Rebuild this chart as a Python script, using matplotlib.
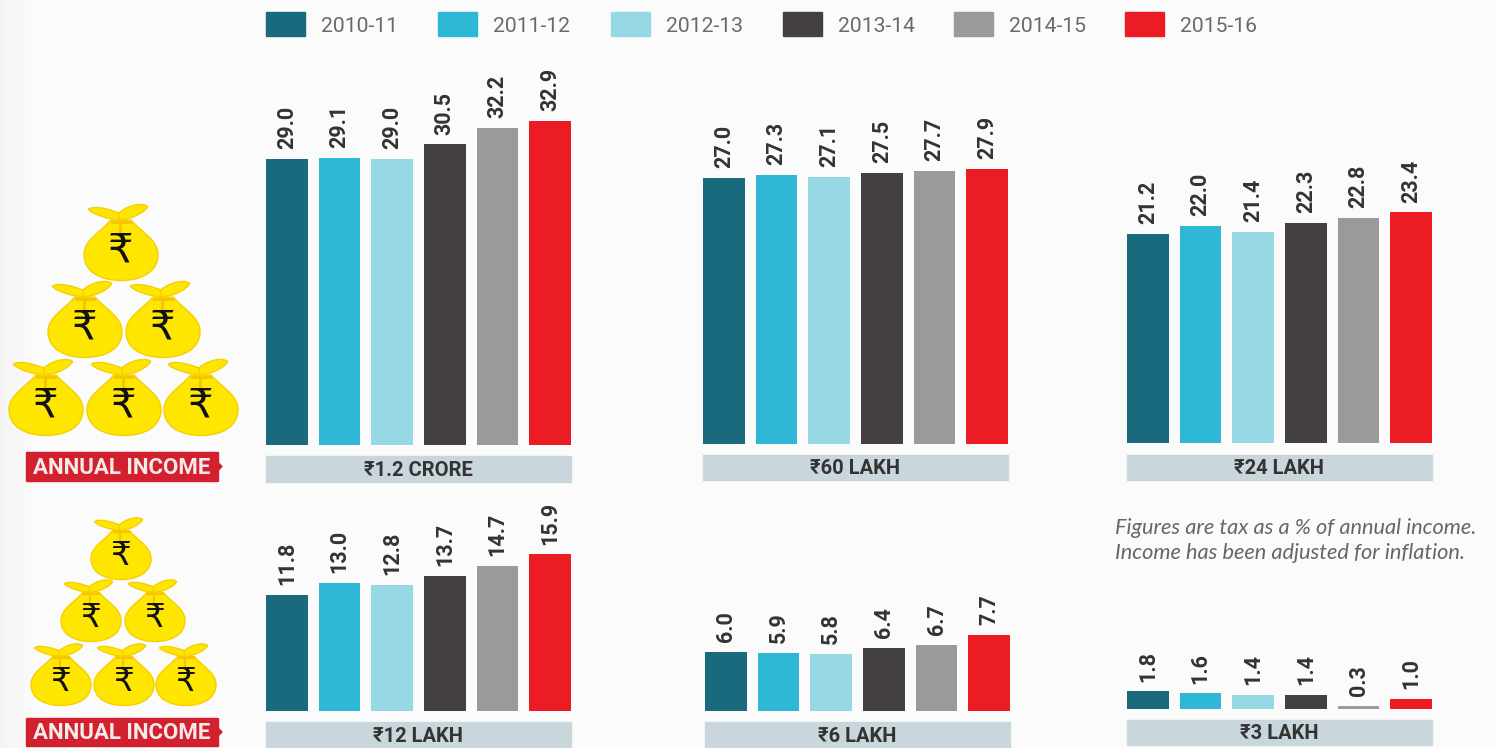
import numpy as np
from matplotlib import pyplot as plt
from matplotlib.patches import PathPatch, Rectangle, Polygon
from matplotlib.path import Path

W, H = 1495, 748
FONT = ['Roboto', 'DejaVu Sans']

years = ['2010-11', '2011-12', '2012-13', '2013-14', '2014-15', '2015-16']
colors = ['#1a6a7e', '#2eb8d6', '#96d8e4', '#444040', '#9b9999', '#ec1c24']

crore_1_2 = [29.0, 29.1, 29.0, 30.5, 32.2, 32.9]
lakh_60 = [27.0, 27.3, 27.1, 27.5, 27.7, 27.9]
lakh_24 = [21.2, 22.0, 21.4, 22.3, 22.8, 23.4]
lakh_12 = [11.8, 13.0, 12.8, 13.7, 14.7, 15.9]
lakh_6 = [6.0, 5.9, 5.8, 6.4, 6.7, 7.7]
lakh_3 = [1.8, 1.6, 1.4, 1.4, 0.3, 1.0]

# values, caption, left edge px, baseline px, caption top px, caption bottom px
panels = [
    (crore_1_2, '₹1.2 CRORE', 266, 445, 456, 482),
    (lakh_60, '₹60 LAKH', 703, 444, 455, 480),
    (lakh_24, '₹24 LAKH', 1127, 443, 455, 480),
    (lakh_12, '₹12 LAKH', 266, 711, 722, 748),
    (lakh_6, '₹6 LAKH', 705, 711, 722, 748),
    (lakh_3, '₹3 LAKH', 1127, 709, 720, 745),
]

fig = plt.figure(figsize=(W / 100, H / 100), dpi=100, facecolor='#fbfbfb')

# overlay in pixel coords for legend, icons and captions
over = fig.add_axes([0, 0, 1, 1])
over.axis('off')

# faint shading down the left edge
over.imshow(np.linspace(0.955, 0.985, 40).reshape(1, -1), extent=[0, 40, H, 0],
            cmap='gray', vmin=0, vmax=1, aspect='auto')
over.set_xlim(0, W)
over.set_ylim(H, 0)

for i, year in enumerate(years):
    x = [266, 438, 611, 783, 954, 1125][i]
    over.add_patch(Rectangle((x, 12), 39, 24, color=colors[i]))
    over.text(x + 55, 26, year, color='#6a6a6a', fontsize=15.2, family=FONT, va='center')

for values, caption, x0, base, top, bottom in panels:
    ax = fig.add_axes([x0 / W, 1 - base / H, 305 / W, 36 * 9.86 / H])
    ax.patch.set_alpha(0)
    ax.axis('off')
    ax.set_xlim(-0.395, 5.395)
    ax.set_ylim(0, 36)
    ax.bar(range(6), values, width=0.79, color=colors)
    for i, v in enumerate(values):
        ax.annotate('%.1f' % v, (i, v), xytext=(0, 7), textcoords='offset points',
                    rotation=90, ha='center', va='bottom', fontsize=15.5,
                    fontweight='bold', color='#333333', family=FONT)
    over.add_patch(Rectangle((x0, top), 305, bottom - top, color='#c9d6dc'))
    over.text(x0 + 152, (top + bottom) / 2 + 1, caption, ha='center', va='center',
              fontsize=14.5, fontweight='bold', color='#333333', family=FONT)


def draw_bag(cx, cy, r):
    def to_px(pts):
        return [(cx + px * r, cy + py * r) for px, py in pts]

    C = Path.CURVE4
    body = [(-0.28, -0.78), (-0.55, -0.45), (-1.0, -0.25), (-1.0, 0.15),
            (-1.0, 0.62), (-0.55, 0.85), (0.0, 0.85), (0.55, 0.85), (1.0, 0.62),
            (1.0, 0.15), (1.0, -0.25), (0.55, -0.45), (0.28, -0.78), (-0.28, -0.78)]
    codes = [Path.MOVETO, C, C, C, C, C, C, C, C, C, C, C, C, Path.CLOSEPOLY]
    over.add_patch(PathPatch(Path(to_px(body), codes), fc='#ffe600', ec='#f5d000', lw=1, zorder=4))
    left = [(0.0, -0.8), (-0.35, -0.78), (-0.85, -0.98), (-0.88, -1.08),
            (-0.7, -1.18), (-0.3, -1.08), (0.0, -0.95), (0.0, -0.8)]
    right = [(-0.05, -0.8), (0.3, -0.78), (0.68, -1.03), (0.72, -1.15),
             (0.6, -1.26), (0.2, -1.2), (-0.05, -0.98), (-0.05, -0.8)]
    leaf = [Path.MOVETO, C, C, C, C, C, C, Path.CLOSEPOLY]
    for ear in (left, right):
        over.add_patch(PathPatch(Path(to_px(ear), leaf), fc='#ffe600', ec='#f5d000', lw=1, zorder=5))
    over.plot(*zip(*to_px([(-0.25, -0.72), (0.25, -0.72)])), color='#f5c400', lw=2 * r / 37, zorder=6)
    over.plot(*zip(*to_px([(-0.03, -0.72), (-0.03, -0.45)])), color='#f5c400', lw=2 * r / 37, zorder=6)
    over.text(cx, cy + 0.05 * r, '₹', ha='center', va='center', fontsize=29 * r / 37,
              color='#111111', family=['DejaVu Sans'], zorder=7)


for cx, cy in [(121, 249), (85, 326), (163, 326), (46, 404), (124, 404), (201, 404)]:
    draw_bag(cx, cy, 37)
for cx, cy in [(121, 554), (91, 616), (155, 616), (61, 680), (124, 680), (186, 680)]:
    draw_bag(cx, cy, 30)

for top, bottom in [(452, 481), (718, 746)]:
    over.add_patch(Rectangle((26, top), 192, bottom - top, color='#d3202f'))
    mid = (top + bottom) / 2
    over.add_patch(Polygon([(218, mid - 4), (222, mid), (218, mid + 4)], color='#d3202f'))
    over.text(122, mid + 1, 'ANNUAL INCOME', ha='center', va='center', color='#f6e9ea',
              fontsize=16, fontweight='bold', family=FONT)

over.text(1115, 528, 'Figures are tax as a % of annual income.', color='#666666', fontsize=15.7,
          style='italic', family='Lato', va='center')
over.text(1115, 553, 'Income has been adjusted for inflation.', color='#666666', fontsize=15.7,
          style='italic', family='Lato', va='center')

fig.savefig('out.png', dpi=100)
